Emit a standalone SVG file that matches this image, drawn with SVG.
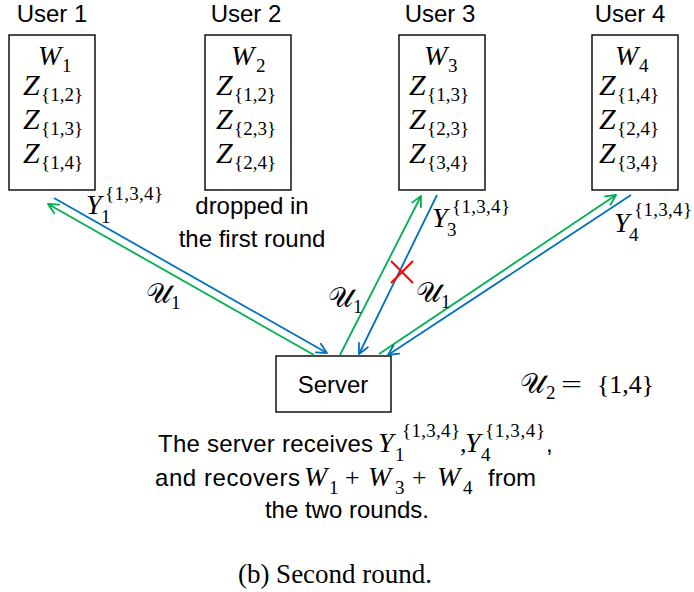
<svg xmlns="http://www.w3.org/2000/svg" width="694" height="592" viewBox="0 0 694 592">
<style>
.box{fill:#fff;stroke:#000;stroke-width:1.4}
.sans{font-family:"Liberation Sans",Arial,sans-serif;font-size:24px;fill:#000}
.m{font-family:"Liberation Serif","Times New Roman",serif;font-size:28px;font-style:italic;fill:#000}
.z{font-family:"Liberation Serif","Times New Roman",serif;font-size:30px;font-style:italic;fill:#000}
.mu{font-family:"Liberation Serif","Times New Roman",serif;font-size:26px;fill:#000}
.s{font-family:"Liberation Serif","Times New Roman",serif;font-size:19px;fill:#000}
.cal{font-family:"DejaVu Serif","DejaVu Sans","Noto Sans",serif;font-size:28px;fill:#000}
.g{stroke:#00B050;stroke-width:1.8;fill:none}
.b{stroke:#0070C0;stroke-width:1.8;fill:none}
.cap{font-family:"Liberation Serif","Times New Roman",serif;font-size:27px;fill:#000}
</style>
<defs>
<marker id="ag" markerUnits="userSpaceOnUse" markerWidth="14" markerHeight="14" refX="11" refY="6" orient="auto">
<path d="M1,1 L11,6 L1,11" fill="none" stroke="#00B050" stroke-width="1.8" stroke-linejoin="round" stroke-linecap="round"/>
</marker>
<marker id="ab" markerUnits="userSpaceOnUse" markerWidth="14" markerHeight="14" refX="11" refY="6" orient="auto">
<path d="M1,1 L11,6 L1,11" fill="none" stroke="#0070C0" stroke-width="1.8" stroke-linejoin="round" stroke-linecap="round"/>
</marker>
</defs>

<g id="user1">
<text class="sans" x="52" y="22" text-anchor="middle">User 1</text>
<rect class="box" x="9" y="35" width="86" height="155"/>
<text class="m" x="38" y="65">W</text><text class="s" x="62" y="72">1</text>
<text class="z" x="23" y="95">Z</text><text class="s" x="41" y="101" textLength="42">{1,2}</text>
<text class="z" x="23" y="129">Z</text><text class="s" x="41" y="135" textLength="42">{1,3}</text>
<text class="z" x="23" y="163">Z</text><text class="s" x="41" y="169" textLength="42">{1,4}</text>
</g>

<g id="user2">
<text class="sans" x="246" y="22" text-anchor="middle">User 2</text>
<rect class="box" x="205" y="35" width="86" height="155"/>
<text class="m" x="231" y="65">W</text><text class="s" x="256" y="72">2</text>
<text class="z" x="216" y="95">Z</text><text class="s" x="234" y="101" textLength="42">{1,2}</text>
<text class="z" x="216" y="129">Z</text><text class="s" x="234" y="135" textLength="42">{2,3}</text>
<text class="z" x="216" y="163">Z</text><text class="s" x="234" y="169" textLength="42">{2,4}</text>
<text class="sans" x="252" y="214" text-anchor="middle">dropped in</text>
<text class="sans" x="252" y="247" text-anchor="middle">the first round</text>
</g>

<g id="user3">
<text class="sans" x="440" y="22" text-anchor="middle">User 3</text>
<rect class="box" x="399" y="35" width="86" height="155"/>
<text class="m" x="424" y="65">W</text><text class="s" x="448" y="72">3</text>
<text class="z" x="409" y="95">Z</text><text class="s" x="427" y="101" textLength="42">{1,3}</text>
<text class="z" x="409" y="129">Z</text><text class="s" x="427" y="135" textLength="42">{2,3}</text>
<text class="z" x="409" y="163">Z</text><text class="s" x="427" y="169" textLength="42">{3,4}</text>
</g>

<g id="user4">
<text class="sans" x="630" y="22" text-anchor="middle">User 4</text>
<rect class="box" x="592" y="35" width="86" height="155"/>
<text class="m" x="615" y="65">W</text><text class="s" x="639" y="72">4</text>
<text class="z" x="599" y="95">Z</text><text class="s" x="617" y="101" textLength="42">{1,4}</text>
<text class="z" x="599" y="129">Z</text><text class="s" x="617" y="135" textLength="42">{2,4}</text>
<text class="z" x="599" y="163">Z</text><text class="s" x="617" y="169" textLength="42">{3,4}</text>
</g>

<g id="server">
<rect class="box" x="276" y="356" width="115" height="56"/>
<text class="sans" x="333" y="393" text-anchor="middle">Server</text>
</g>

<g id="connectors">
<line class="b" x1="54" y1="198" x2="327" y2="353" marker-end="url(#ab)"/>
<line class="g" x1="314" y1="355" x2="48" y2="204" marker-end="url(#ag)"/>
<line class="g" x1="340" y1="355" x2="421" y2="196" marker-end="url(#ag)"/>
<line class="b" x1="437" y1="195" x2="359" y2="354" marker-end="url(#ab)"/>
<line class="g" x1="379" y1="354" x2="616" y2="195" marker-end="url(#ag)"/>
<line class="b" x1="631" y1="195" x2="388" y2="355" marker-end="url(#ab)"/>
<path d="M391,261 L413,283 M413,261 L391,283" stroke="#FF0000" stroke-width="2" fill="none"/>
</g>

<g id="labels">
<text class="m" x="86" y="214">Y</text><text class="s" x="101" y="223">1</text><text class="s" x="105" y="200" textLength="58">{1,3,4}</text>
<text class="m" x="432" y="227">Y</text><text class="s" x="447" y="236">3</text><text class="s" x="452" y="213" textLength="58">{1,3,4}</text>
<text class="m" x="614" y="232">Y</text><text class="s" x="629" y="241">4</text><text class="s" x="634" y="216" textLength="58">{1,3,4}</text>
<text class="cal" x="146" y="303">𝒰</text><text class="s" x="171" y="309">1</text>
<text class="cal" x="328" y="307">𝒰</text><text class="s" x="353" y="313">1</text>
<text class="cal" x="416" y="302">𝒰</text><text class="s" x="441" y="308">1</text>
<text class="cal" x="520" y="393">𝒰</text><text class="s" x="546" y="399">2</text>
<text class="mu" x="561" y="393" textLength="21" lengthAdjust="spacingAndGlyphs">=</text>
<text class="mu" x="597" y="393" textLength="57">{1,4}</text>
</g>

<g id="description">
<text class="sans" x="158" y="452" textLength="215">The server receives</text>
<text class="m" x="378" y="452">Y</text><text class="s" x="395" y="461">1</text><text class="s" x="402" y="437" textLength="58">{1,3,4}</text>
<text class="mu" x="460" y="452">,</text>
<text class="m" x="465" y="452">Y</text><text class="s" x="481" y="461">4</text><text class="s" x="485" y="437" textLength="60">{1,3,4}</text>
<text class="sans" x="546" y="452">,</text>
<text class="sans" x="155" y="486" textLength="145">and recovers</text>
<text class="m" x="304" y="486">W</text><text class="s" x="329" y="494">1</text>
<text class="mu" x="345" y="486">+</text>
<text class="m" x="368" y="486">W</text><text class="s" x="395" y="494">3</text>
<text class="mu" x="412" y="486">+</text>
<text class="m" x="437" y="486">W</text><text class="s" x="463" y="494">4</text>
<text class="sans" x="488" y="486">from</text>
<text class="sans" x="347" y="518" text-anchor="middle">the two rounds.</text>
</g>

<text class="cap" x="335" y="583" text-anchor="middle">(b) Second round.</text>
</svg>
